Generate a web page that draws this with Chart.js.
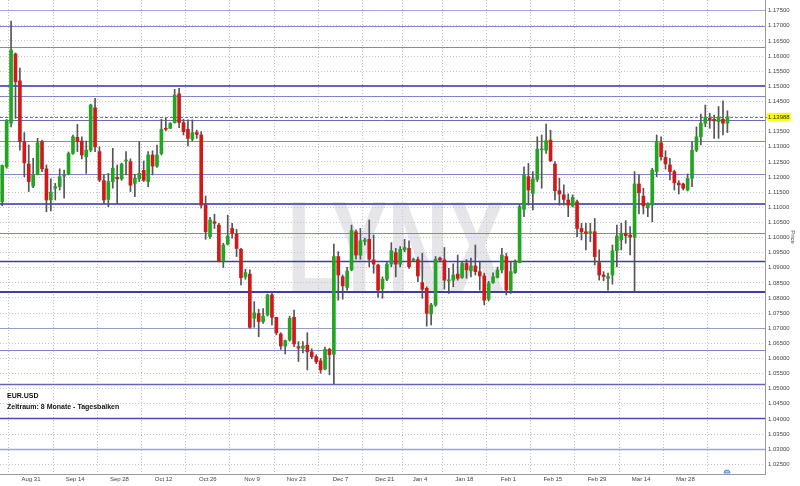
<!DOCTYPE html>
<html>
<head>
<meta charset="utf-8">
<title>EUR.USD</title>
<script src="https://cdn.jsdelivr.net/npm/chart.js@4.4.0/dist/chart.umd.min.js"></script>
<style>
  html, body { margin: 0; padding: 0; background: #fff; }
  #wrap { width: 800px; height: 486px; }
</style>
</head>
<body>
<div id="wrap"><canvas id="chart" width="800" height="486"></canvas></div>
<script>
// daily EUR.USD bars (one entry per trading day)
const opens = [
  1.1118, 1.1234, 1.1378, 1.1607, 1.1518, 1.1317, 1.1243, 1.1170, 1.1209, 1.1317,
  1.1227, 1.1124, 1.1163, 1.1168, 1.1203, 1.1209, 1.1278, 1.1331, 1.1319, 1.1267,
  1.1289, 1.1429, 1.1284, 1.1188, 1.1126, 1.1185, 1.1199, 1.1194, 1.1253, 1.1251,
  1.1179, 1.1194, 1.1222, 1.1185, 1.1273, 1.1236, 1.1278, 1.1361, 1.1361, 1.1380,
  1.1475, 1.1380, 1.1358, 1.1325, 1.1347, 1.1339, 1.1107, 1.1003, 1.1052, 1.1041,
  1.0922, 1.0978, 1.1030, 1.1011, 1.0961, 1.0870, 1.0879, 1.0733, 1.0749, 1.0722,
  1.0744, 1.0810, 1.0736, 1.0681, 1.0641, 1.0661, 1.0736, 1.0639, 1.0634, 1.0644,
  1.0622, 1.0606, 1.0592, 1.0565, 1.0630, 1.0614, 1.0937, 1.0870, 1.0835, 1.0893,
  1.1019, 1.0942, 1.0987, 1.0994, 1.0926, 1.0909, 1.0830, 1.0862, 1.0912, 1.0950,
  1.0912, 1.0959, 1.0964, 1.0924, 1.0927, 1.0851, 1.0832, 1.0747, 1.0777, 1.0932,
  1.0926, 1.0857, 1.0859, 1.0879, 1.0868, 1.0914, 1.0890, 1.0906, 1.0887, 1.0873,
  1.0796, 1.0851, 1.0868, 1.0893, 1.0937, 1.0826, 1.0884, 1.0917, 1.1093, 1.1201,
  1.1146, 1.1192, 1.1290, 1.1289, 1.1322, 1.1243, 1.1155, 1.1141, 1.1124, 1.1104,
  1.1118, 1.1030, 1.1019, 1.1016, 1.1019, 1.0917, 1.0876, 1.0865, 1.0876, 1.0956,
  1.0992, 1.1014, 1.1008, 1.1001, 1.1177, 1.1137, 1.1098, 1.1107, 1.1218, 1.1313,
  1.1265, 1.1240, 1.1218, 1.1180, 1.1177, 1.1157, 1.1196, 1.1289, 1.1333, 1.1378,
  1.1394, 1.1391, 1.1383, 1.1391, 1.1378
];
const highs = [
  1.1240, 1.1390, 1.1716, 1.1610, 1.1560, 1.1347, 1.1306, 1.1262, 1.1328, 1.1322,
  1.1240, 1.1194, 1.1179, 1.1227, 1.1223, 1.1283, 1.1339, 1.1374, 1.1333, 1.1319,
  1.1441, 1.1460, 1.1300, 1.1207, 1.1212, 1.1295, 1.1240, 1.1246, 1.1284, 1.1260,
  1.1209, 1.1317, 1.1253, 1.1284, 1.1287, 1.1306, 1.1391, 1.1394, 1.1380, 1.1490,
  1.1493, 1.1391, 1.1389, 1.1389, 1.1355, 1.1350, 1.1137, 1.1067, 1.1077, 1.1047,
  1.0981, 1.1074, 1.1047, 1.1027, 1.0964, 1.0895, 1.0893, 1.0788, 1.0763, 1.0765,
  1.0813, 1.0816, 1.0736, 1.0685, 1.0661, 1.0740, 1.0760, 1.0656, 1.0656, 1.0685,
  1.0632, 1.0612, 1.0600, 1.0638, 1.0634, 1.0978, 1.0953, 1.0876, 1.0901, 1.1041,
  1.1025, 1.1030, 1.0998, 1.1058, 1.1008, 1.0912, 1.0870, 1.0918, 1.0983, 1.0964,
  1.0970, 1.0994, 1.0989, 1.0932, 1.0935, 1.0948, 1.0837, 1.0782, 1.0937, 1.0935,
  1.0967, 1.0898, 1.0913, 1.0942, 1.0920, 1.0927, 1.0932, 1.0975, 1.0920, 1.0882,
  1.0855, 1.0883, 1.0902, 1.0964, 1.0948, 1.0920, 1.0926, 1.1110, 1.1234, 1.1245,
  1.1218, 1.1333, 1.1339, 1.1375, 1.1355, 1.1251, 1.1196, 1.1174, 1.1144, 1.1141,
  1.1124, 1.1047, 1.1047, 1.1047, 1.1063, 1.0959, 1.0887, 1.0882, 1.0975, 1.1041,
  1.1047, 1.1056, 1.1036, 1.1218, 1.1207, 1.1163, 1.1115, 1.1229, 1.1339, 1.1333,
  1.1287, 1.1262, 1.1223, 1.1188, 1.1180, 1.1210, 1.1317, 1.1366, 1.1408, 1.1438,
  1.1411, 1.1405, 1.1433, 1.1452, 1.1419
];
const lows = [
  1.1105, 1.1229, 1.1366, 1.1394, 1.1289, 1.1201, 1.1152, 1.1165, 1.1207, 1.1218,
  1.1085, 1.1088, 1.1124, 1.1157, 1.1130, 1.1207, 1.1275, 1.1284, 1.1260, 1.1212,
  1.1284, 1.1284, 1.1185, 1.1113, 1.1102, 1.1163, 1.1113, 1.1189, 1.1207, 1.1152,
  1.1135, 1.1185, 1.1185, 1.1168, 1.1207, 1.1232, 1.1273, 1.1353, 1.1361, 1.1378,
  1.1363, 1.1339, 1.1303, 1.1320, 1.1328, 1.1097, 1.0994, 1.0997, 1.1030, 1.0919,
  1.0901, 1.0975, 1.0998, 1.0937, 1.0843, 1.0862, 1.0700, 1.0703, 1.0672, 1.0716,
  1.0740, 1.0711, 1.0678, 1.0630, 1.0615, 1.0657, 1.0639, 1.0590, 1.0618, 1.0562,
  1.0599, 1.0583, 1.0551, 1.0562, 1.0546, 1.0516, 1.0793, 1.0796, 1.0826, 1.0890,
  1.0928, 1.0928, 1.0975, 1.0903, 1.0882, 1.0802, 1.0799, 1.0857, 1.0903, 1.0870,
  1.0903, 1.0953, 1.0898, 1.0920, 1.0854, 1.0799, 1.0707, 1.0711, 1.0772, 1.0922,
  1.0829, 1.0815, 1.0837, 1.0859, 1.0865, 1.0865, 1.0870, 1.0876, 1.0826, 1.0777,
  1.0790, 1.0848, 1.0866, 1.0883, 1.0810, 1.0815, 1.0881, 1.0916, 1.1069, 1.1107,
  1.1091, 1.1185, 1.1163, 1.1278, 1.1251, 1.1124, 1.1107, 1.1107, 1.1069, 1.1101,
  1.1003, 1.0992, 1.0959, 1.0986, 1.0909, 1.0859, 1.0857, 1.0826, 1.0846, 1.0903,
  1.0959, 1.0981, 1.0942, 1.0819, 1.1078, 1.1078, 1.1069, 1.1052, 1.1201, 1.1256,
  1.1226, 1.1190, 1.1157, 1.1144, 1.1157, 1.1154, 1.1168, 1.1284, 1.1306, 1.1366,
  1.1361, 1.1328, 1.1328, 1.1339, 1.1347
];
const closes = [
  1.1238, 1.1388, 1.1620, 1.1515, 1.1317, 1.1247, 1.1185, 1.1209, 1.1313, 1.1227,
  1.1124, 1.1150, 1.1168, 1.1201, 1.1207, 1.1278, 1.1333, 1.1317, 1.1273, 1.1289,
  1.1438, 1.1300, 1.1190, 1.1124, 1.1185, 1.1229, 1.1194, 1.1243, 1.1256, 1.1173,
  1.1196, 1.1212, 1.1189, 1.1273, 1.1236, 1.1273, 1.1358, 1.1358, 1.1377, 1.1471,
  1.1380, 1.1350, 1.1328, 1.1347, 1.1341, 1.1107, 1.1019, 1.1058, 1.1047, 1.0922,
  1.0975, 1.1005, 1.1014, 1.0964, 1.0867, 1.0884, 1.0703, 1.0751, 1.0722, 1.0740,
  1.0810, 1.0736, 1.0685, 1.0641, 1.0659, 1.0733, 1.0648, 1.0634, 1.0641, 1.0622,
  1.0606, 1.0589, 1.0562, 1.0630, 1.0612, 1.0937, 1.0876, 1.0840, 1.0889, 1.1023,
  1.0942, 1.0989, 1.0992, 1.0928, 1.0912, 1.0826, 1.0862, 1.0912, 1.0956, 1.0912,
  1.0961, 1.0967, 1.0903, 1.0929, 1.0873, 1.0829, 1.0749, 1.0777, 1.0928, 1.0926,
  1.0859, 1.0860, 1.0876, 1.0865, 1.0914, 1.0893, 1.0906, 1.0887, 1.0873, 1.0793,
  1.0849, 1.0870, 1.0893, 1.0942, 1.0826, 1.0887, 1.0917, 1.1102, 1.1207, 1.1157,
  1.1194, 1.1292, 1.1292, 1.1320, 1.1254, 1.1155, 1.1144, 1.1126, 1.1107, 1.1133,
  1.1030, 1.1019, 1.1014, 1.1016, 1.0937, 1.0876, 1.0871, 1.0871, 1.0956, 1.1005,
  1.1014, 1.1006, 1.1001, 1.1177, 1.1148, 1.1104, 1.1111, 1.1223, 1.1317, 1.1267,
  1.1243, 1.1218, 1.1181, 1.1174, 1.1163, 1.1196, 1.1289, 1.1333, 1.1378, 1.1398,
  1.1389, 1.1386, 1.1398, 1.1378, 1.13988
];

// x axis: bar index where each date label sits, and the labels
const tickPos = [6.5, 16.5, 26.5, 36.5, 46.5, 56.5, 66.5, 76.5, 86.5, 94.5, 104.5, 114.5, 124.5, 134.5, 144.5, 154.5];
const tickLabels = ['Aug 31', 'Sep 14', 'Sep 28', 'Oct 12', 'Oct 26', 'Nov 9', 'Nov 23', 'Dec 7', 'Dec 21',
                    'Jan 4', 'Jan 18', 'Feb 1', 'Feb 15', 'Feb 29', 'Mar 14', 'Mar 28'];

// y axis price ticks
const priceTicks = [
  1.175, 1.170, 1.165, 1.160, 1.155, 1.150, 1.145, 1.140, 1.135, 1.130, 1.125,
  1.120, 1.115, 1.110, 1.105, 1.100, 1.095, 1.090, 1.085, 1.080, 1.075, 1.070,
  1.065, 1.060, 1.055, 1.050, 1.045, 1.040, 1.035, 1.030, 1.025
];

// horizontal support / resistance lines drawn on the chart
const levels = [1.1752, 1.1700, 1.1630, 1.1501, 1.1467, 1.1389, 1.1319, 1.1209, 1.1111,
                1.1014, 1.0922, 1.0819, 1.0702, 1.0628, 1.0516, 1.0402, 1.0301];
const lastPrice = 1.13988;

const GREEN = '#22a522';
const RED = '#d01a1a';
const levelColors = ['#a8a8dc', '#8484c8', '#8484c8', '#6464bc', '#8484c8', '#6a6ab8', '#8484c8', '#8484c8', '#6464bc',
                     '#8484c8', '#3c3caa', '#3c3caa', '#9a9ad4', '#8484c8', '#6464bc', '#4c4cb0', '#a0a0d8'];
const levelWidths = [1, 1, 1, 2, 1, 1, 1, 1, 2, 1, 1.5, 2, 1, 1, 1.5, 1.5, 1.5];

const tickFont = { family: 'Liberation Sans', size: 6 };

const decor = {
  id: 'decor',
  beforeDraw(chart) {
    const { ctx } = chart;
    ctx.save();
    ctx.fillStyle = '#fff';
    ctx.fillRect(0, 0, chart.width, chart.height);
    // LYNX watermark
    ctx.font = 'bold 132px "Liberation Sans"';
    const w = ctx.measureText('LYNX').width;
    ctx.translate(287, 293);
    ctx.scale(218 / w, 1);
    ctx.fillStyle = '#e6e6ea';
    ctx.textBaseline = 'alphabetic';
    ctx.fillText('LYNX', 0, 0);
    ctx.restore();
  },
  beforeDatasetsDraw(chart) {
    const { ctx, chartArea: a, scales: { y } } = chart;
    ctx.save();
    levels.forEach((v, i) => {
      const py = Math.round(y.getPixelForValue(v)) + (levelWidths[i] % 2 ? 0.5 : 0);
      ctx.strokeStyle = levelColors[i];
      ctx.lineWidth = levelWidths[i];
      ctx.beginPath();
      ctx.moveTo(a.left, py);
      ctx.lineTo(a.right, py);
      ctx.stroke();
    });
    const py = Math.round(y.getPixelForValue(lastPrice)) + 0.5;
    ctx.strokeStyle = '#777';
    ctx.lineWidth = 1;
    ctx.setLineDash([3, 2]);
    ctx.beginPath();
    ctx.moveTo(a.left, py);
    ctx.lineTo(a.right + 2, py);
    ctx.stroke();
    ctx.restore();
  },
  afterDraw(chart) {
    const { ctx, chartArea: a, scales: { y } } = chart;
    ctx.save();
    // current price marker on the axis
    ctx.font = '6px "Liberation Sans"';
    const label = lastPrice.toFixed(5);
    const tw = ctx.measureText(label).width;
    const py = y.getPixelForValue(lastPrice);
    ctx.fillStyle = '#ffff00';
    ctx.fillRect(a.right + 2, py - 4, tw + 2, 8);
    ctx.fillStyle = '#222';
    ctx.textBaseline = 'middle';
    ctx.fillText(label, a.right + 3, py + 0.5);
    // info text
    ctx.textBaseline = 'alphabetic';
    ctx.fillStyle = '#111';
    ctx.font = 'bold 7px "Liberation Sans"';
    ctx.fillText('EUR.USD', 7, 398);
    ctx.fillText('Zeitraum: 8 Monate - Tagesbalken', 7, 409);
    // small icon bottom right
    ctx.fillStyle = '#a9c8f0';
    ctx.strokeStyle = '#5b8fd6';
    ctx.beginPath();
    ctx.arc(727, 473, 3, Math.PI, 0);
    ctx.closePath();
    ctx.fill();
    ctx.stroke();
    ctx.restore();
  }
};

const idx = opens.map((_, i) => i);

new Chart(document.getElementById('chart'), {
  type: 'bar',
  data: {
    datasets: [
      {
        label: 'body',
        data: idx.map(i => ({ x: i, y: [opens[i], closes[i]] })),
        backgroundColor: idx.map(i => closes[i] >= opens[i] ? GREEN : RED),
        barThickness: 3,
        minBarLength: 1,
        grouped: false,
        order: 0
      },
      {
        label: 'wick',
        data: idx.map(i => ({ x: i, y: [lows[i], highs[i]] })),
        backgroundColor: '#555',
        barThickness: 1,
        grouped: false,
        order: 1
      }
    ]
  },
  options: {
    responsive: false,
    animation: false,
    devicePixelRatio: 1,
    layout: { padding: 0 },
    plugins: { legend: { display: false }, tooltip: { enabled: false } },
    scales: {
      x: {
        type: 'linear',
        min: -0.5,
        max: 172.5,
        offset: false,
        afterBuildTicks: s => { s.ticks = tickPos.map(v => ({ value: v })); },
        afterFit: s => { s.height = 12; s.paddingLeft = 0; s.paddingRight = 0; },
        ticks: {
          autoSkip: false,
          maxRotation: 0,
          padding: 2,
          font: tickFont,
          color: '#444',
          callback: v => tickLabels[tickPos.indexOf(v)] || ''
        },
        grid: { color: '#c4c4c4', lineWidth: 1, drawTicks: false },
        border: { display: true, color: '#9a9a9a', dash: [1, 2] }
      },
      y: {
        position: 'right',
        min: 1.02179,
        max: 1.17854,
        afterBuildTicks: s => { s.ticks = priceTicks.map(v => ({ value: v })); },
        afterFit: s => { s.width = 35; s.paddingTop = 0; s.paddingBottom = 0; },
        ticks: {
          autoSkip: false,
          padding: 3,
          font: tickFont,
          color: '#444',
          callback: v => Math.abs(v - 1.14) < 1e-9 ? '' : v.toFixed(5)
        },
        title: {
          display: true,
          text: 'Price',
          font: tickFont,
          color: '#444',
          padding: { top: 4, bottom: 0 }
        },
        grid: { color: '#c4c4c4', lineWidth: 1, drawTicks: false },
        border: { display: true, color: '#9a9a9a', dash: [1, 2] }
      }
    }
  },
  plugins: [decor]
});
</script>
</body>
</html>
